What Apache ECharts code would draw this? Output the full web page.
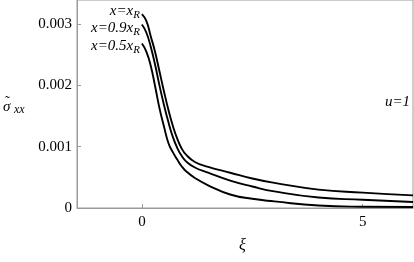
<!DOCTYPE html>
<html>
<head>
<meta charset="utf-8">
<script src="https://cdn.jsdelivr.net/npm/echarts@6/dist/echarts.min.js"></script>
<style>html,body{margin:0;padding:0;background:#fff;}#c{width:414px;height:262px;}</style>
</head>
<body>
<div id="c"></div>
<script>
// xi values (shared) and sigma_xx values (x 1e-3) for each curve
const xi   = [0, 0.1, 0.2, 0.3, 0.4, 0.5, 0.6, 0.7, 0.8, 0.9, 1.0, 1.2, 1.5, 2.0, 2.5, 3.0, 4.0, 5.0, 6.14];
const sTop = [3.16, 3.05, 2.80, 2.54, 2.22, 1.90, 1.60, 1.34, 1.13, 0.97, 0.87, 0.75, 0.67, 0.575, 0.48, 0.41, 0.30, 0.25, 0.205];
const sMid = [2.99, 2.86, 2.63, 2.33, 1.99, 1.68, 1.40, 1.16, 0.98, 0.85, 0.76, 0.66, 0.575, 0.445, 0.35, 0.27, 0.17, 0.135, 0.098];
const sBot = [2.68, 2.55, 2.32, 1.98, 1.62, 1.33, 1.06, 0.91, 0.79, 0.68, 0.60, 0.49, 0.37, 0.22, 0.15, 0.108, 0.04, 0.021, 0.016];
const xTicks = [0, 5];
const yTicks = [0, 0.001, 0.002, 0.003];
const seriesNames = ['x=xR', 'x=0.9xR', 'x=0.5xR'];

const pairs = (xs, ys) => xs.map((x, i) => [x, ys[i] * 1e-3]);
const FONT = '"Liberation Serif", "Times New Roman", serif';
const AX = '#9a9a9a';

const chart = echarts.init(document.getElementById('c'), null, {renderer: 'canvas'});
const mkSeries = (name, d) => ({
  name, type: 'line', data: d, showSymbol: false, smooth: 0.5,
  lineStyle: {color: '#000', width: 1.9}, silent: true, animation: false
});
const sub = {fontFamily: FONT, fontStyle: 'italic', fontSize: 11, padding: [8, 0, 0, 0]};
const main = {fontFamily: FONT, fontStyle: 'italic', fontSize: 15};
chart.setOption({
  animation: false,
  grid: {left: 77, right: 1, top: 0, bottom: 54, show: true, borderColor: AX, borderWidth: 1},
  xAxis: {
    type: 'value', min: -1.47, max: 6.14,
    axisLine: {onZero: false, lineStyle: {color: AX}},
    axisTick: {inside: true, length: 4, lineStyle: {color: AX}, customValues: xTicks},
    axisLabel: {customValues: xTicks, color: '#000', fontFamily: FONT, fontSize: 15, margin: 7},
    splitLine: {show: false}
  },
  yAxis: {
    type: 'value', min: 0, max: 0.00339,
    axisLine: {show: true, onZero: false, lineStyle: {color: AX}},
    axisTick: {show: true, inside: true, length: 4, lineStyle: {color: AX}, customValues: yTicks},
    axisLabel: {customValues: yTicks, color: '#000', fontFamily: FONT, fontSize: 15, margin: 5,
      formatter: v => v === 0 ? '0' : v.toFixed(3)},
    splitLine: {show: false}
  },
  series: [
    mkSeries(seriesNames[0], pairs(xi, sTop)),
    mkSeries(seriesNames[1], pairs(xi, sMid)),
    mkSeries(seriesNames[2], pairs(xi, sBot))
  ],
  graphic: [
    {type: 'text', right: 414 - 140, top: 4, style: {text: '{m|x=x}{s|R}', fill: '#000', rich: {m: main, s: sub}}},
    {type: 'text', right: 414 - 140, top: 21, style: {text: '{m|x=0.9x}{s|R}', fill: '#000', rich: {m: main, s: sub}}},
    {type: 'text', right: 414 - 140, top: 39, style: {text: '{m|x=0.5x}{s|R}', fill: '#000', rich: {m: main, s: sub}}},
    {type: 'text', right: 4, top: 95, style: {text: 'u=1', fill: '#000', fontFamily: FONT, fontStyle: 'italic', fontSize: 15}},
    {type: 'text', left: 3, top: 100, style: {text: 'σ', fill: '#000', fontFamily: FONT, fontStyle: 'italic', fontSize: 15}},
    {type: 'text', left: 5, top: 95, style: {text: '˜', fill: '#000', fontFamily: FONT, fontSize: 15}},
    {type: 'text', left: 14, top: 104, style: {text: 'xx', fill: '#000', fontFamily: FONT, fontStyle: 'italic', fontSize: 12}},
    {type: 'text', left: 239, top: 238, style: {text: 'ξ', fill: '#000', fontFamily: FONT, fontStyle: 'italic', fontSize: 16}}
  ]
});
</script>
</body>
</html>
